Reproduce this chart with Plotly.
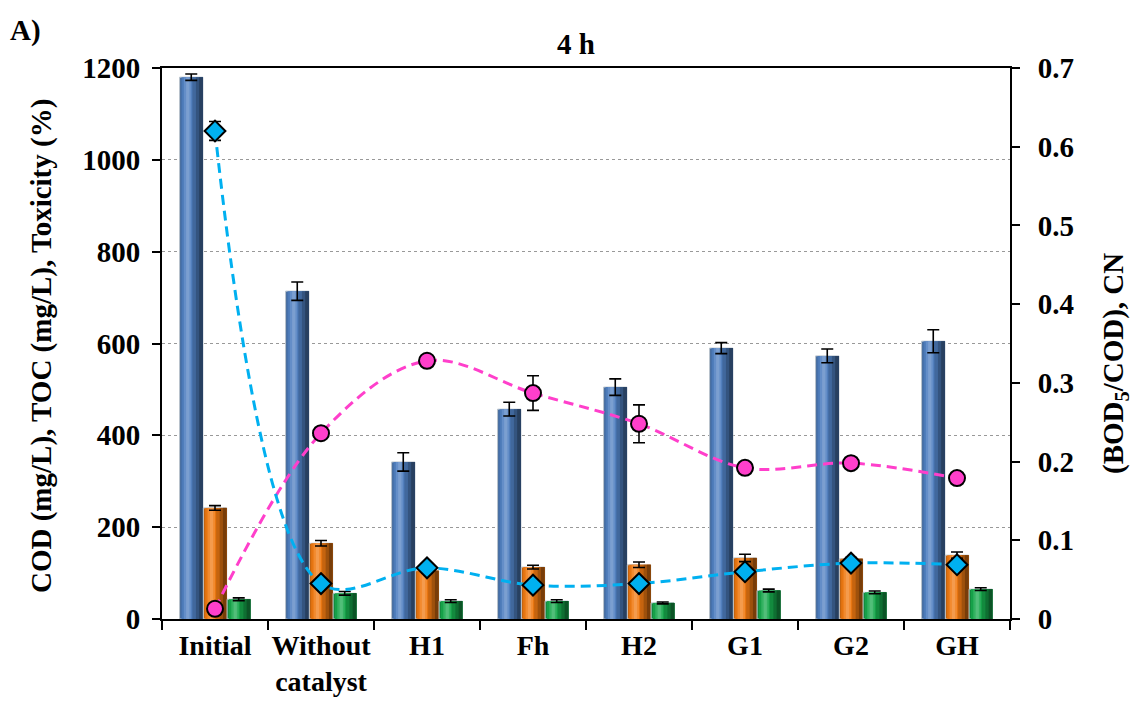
import plotly.graph_objects as go

# ---------------- data ----------------
categories = ["Initial", "Without<br>catalyst", "H1", "Fh", "H2", "G1", "G2", "GH"]

cod = [1180, 714, 342, 457, 505, 590, 573, 605]
cod_err = [7, 20, 20, 15, 18, 12, 15, 25]

toc = [242, 165, 105, 113, 118, 133, 131, 139]
toc_err = [5, 6, 5, 4, 6, 8, 3, 7]

toxicity = [43, 56, 39, 39, 35, 62, 58, 65]
toxicity_err = [3, 4, 3, 3, 2, 3, 3, 3]

bod_cod = [0.013, 0.236, 0.328, 0.287, 0.248, 0.192, 0.198, 0.179]
bod_cod_err = [0, 0, 0, 0.022, 0.024, 0, 0, 0]

cn = [0.62, 0.045, 0.065, 0.043, 0.045, 0.060, 0.071, 0.069]
cn_err = [0.012, 0, 0, 0, 0, 0, 0, 0]

left_ticks = [0, 200, 400, 600, 800, 1000, 1200]
right_ticks = [0, 0.1, 0.2, 0.3, 0.4, 0.5, 0.6, 0.7]

# ---------------- styling ----------------
FONT = "Liberation Serif"
W, H = 1132, 702
L, R, T, B = 162, 122, 68, 83          # plot-area margins in px
PW, PH = W - L - R, H - T - B

BAR_W = 0.22
BAR_OFF = [-0.224, 0.0, 0.224]
BAR_BASE = ["#4f7fc0", "#f07a12", "#17a84c"]

# shading layers (left fraction, right fraction, brightness) for a rounded look
SHADE = [(0.00, 1.00, 0.82), (0.08, 1.00, 0.96), (0.18, 0.50, 1.12),
         (0.28, 0.42, 1.25), (0.55, 1.00, 0.82), (0.70, 1.00, 0.66),
         (0.84, 1.00, 0.50)]


def shade(hex_color, f):
    r, g, b = (int(hex_color[i:i + 2], 16) for i in (1, 3, 5))
    if f <= 1:
        r, g, b = r * f, g * f, b * f
    else:
        k = f - 1
        r, g, b = r + (255 - r) * k, g + (255 - g) * k, b + (255 - b) * k
    return "rgb(%d,%d,%d)" % (round(r), round(g), round(b))


def px_x(px):
    return (px - L) / PW


def px_y(py):
    return (H - B - py) / PH


fig = go.Figure()
idx = list(range(len(categories)))

# ---------------- bars ----------------
for s, (vals, errs) in enumerate([(cod, cod_err), (toc, toc_err), (toxicity, toxicity_err)]):
    centre = [i + BAR_OFF[s] for i in idx]
    for k, (a, b, f) in enumerate(SHADE):
        mid = (a + b) / 2 - 0.5
        fig.add_trace(go.Bar(
            x=[c + mid * BAR_W for c in centre], y=vals, width=(b - a) * BAR_W,
            marker=dict(color=shade(BAR_BASE[s], f),
                        line=dict(color="#b9c3cc", width=1 if k == 0 else 0)),
            showlegend=False, hoverinfo="skip"))
    fig.add_trace(go.Scatter(
        x=centre, y=vals, mode="markers",
        marker=dict(size=1, color="rgba(0,0,0,0)"),
        error_y=dict(type="data", array=errs, color="black", thickness=1.6, width=6),
        showlegend=False, hoverinfo="skip"))

# ---------------- ratio lines (right axis) ----------------
fig.add_trace(go.Scatter(
    x=idx, y=bod_cod, yaxis="y2", mode="lines+markers",
    line=dict(color="#ff3fcb", width=3, dash="10px,6px", shape="spline", smoothing=1),
    marker=dict(symbol="circle", size=16, color="#ff3fcb", line=dict(color="black", width=2)),
    error_y=dict(type="data", array=bod_cod_err, color="black", thickness=1.6, width=6),
    showlegend=False))
fig.add_trace(go.Scatter(
    x=idx, y=cn, yaxis="y2", mode="lines+markers",
    line=dict(color="#00b0f0", width=3, dash="10px,6px", shape="spline", smoothing=1),
    marker=dict(symbol="diamond", size=16, color="#00b0f0", line=dict(color="black", width=2)),
    error_y=dict(type="data", array=cn_err, color="black", thickness=1.6, width=6),
    showlegend=False))

# ---------------- layout ----------------
tickfont = dict(family=FONT, size=29, color="black", weight="bold")
xtickfont = dict(family=FONT, size=28, color="black", weight="bold")
tick_labels = ["<b>%s</b>" % c.replace("<br>", "</b><br><b>") for c in categories]

fig.update_layout(
    width=W, height=H,
    margin=dict(l=L, r=R, t=T, b=B, autoexpand=False),
    paper_bgcolor="white", plot_bgcolor="white",
    barmode="overlay",
    xaxis=dict(
        range=[-0.5, len(categories) - 0.5], automargin=False,
        tickmode="array", tickvals=idx, ticktext=tick_labels,
        ticks="", tickfont=xtickfont,
        showline=True, linecolor="black", linewidth=2, mirror=True,
        showgrid=False, zeroline=False,
        minor=dict(tickmode="array",
                   tickvals=[i - 0.5 for i in idx] + [len(categories) - 0.5],
                   ticks="outside", ticklen=9, tickwidth=2, tickcolor="black",
                   showgrid=False),
    ),
    yaxis=dict(
        range=[0, 1200], tickmode="array", tickvals=left_ticks, automargin=False,
        ticks="outside", ticklen=8, tickwidth=2, tickcolor="black",
        tickfont=tickfont, ticklabelstandoff=6,
        showline=True, linecolor="black", linewidth=2,
        showgrid=True, gridcolor="#999999", gridwidth=1.3, griddash="dot",
        zeroline=False,
    ),
    yaxis2=dict(
        range=[0, 0.7], tickmode="array", tickvals=right_ticks, automargin=False,
        overlaying="y", side="right",
        ticks="outside", ticklen=8, tickwidth=2, tickcolor="black",
        tickfont=tickfont, ticklabelstandoff=12,
        showline=True, linecolor="black", linewidth=2,
        showgrid=False, zeroline=False,
    ),
    annotations=[
        dict(text="A)", x=px_x(8), y=px_y(30), xref="paper", yref="paper",
             xanchor="left", yanchor="middle", showarrow=False,
             font=dict(family=FONT, size=29, color="black", weight="bold")),
        dict(text="4 h", x=px_x(576), y=px_y(44), xref="paper", yref="paper",
             xanchor="center", yanchor="middle", showarrow=False,
             font=dict(family=FONT, size=29, color="black", weight="bold")),
        dict(text="COD (mg/L), TOC (mg/L), Toxicity (%)", x=px_x(41), y=px_y(346),
             xref="paper", yref="paper", textangle=-90,
             xanchor="center", yanchor="middle", showarrow=False,
             font=dict(family=FONT, size=29, color="black", weight="bold")),
        dict(text="(BOD<sub>5</sub>/COD), CN", x=px_x(1115), y=px_y(364),
             xref="paper", yref="paper", textangle=-90,
             xanchor="center", yanchor="middle", showarrow=False,
             font=dict(family=FONT, size=29, color="black", weight="bold")),
    ],
)

fig.write_html("out.html")
